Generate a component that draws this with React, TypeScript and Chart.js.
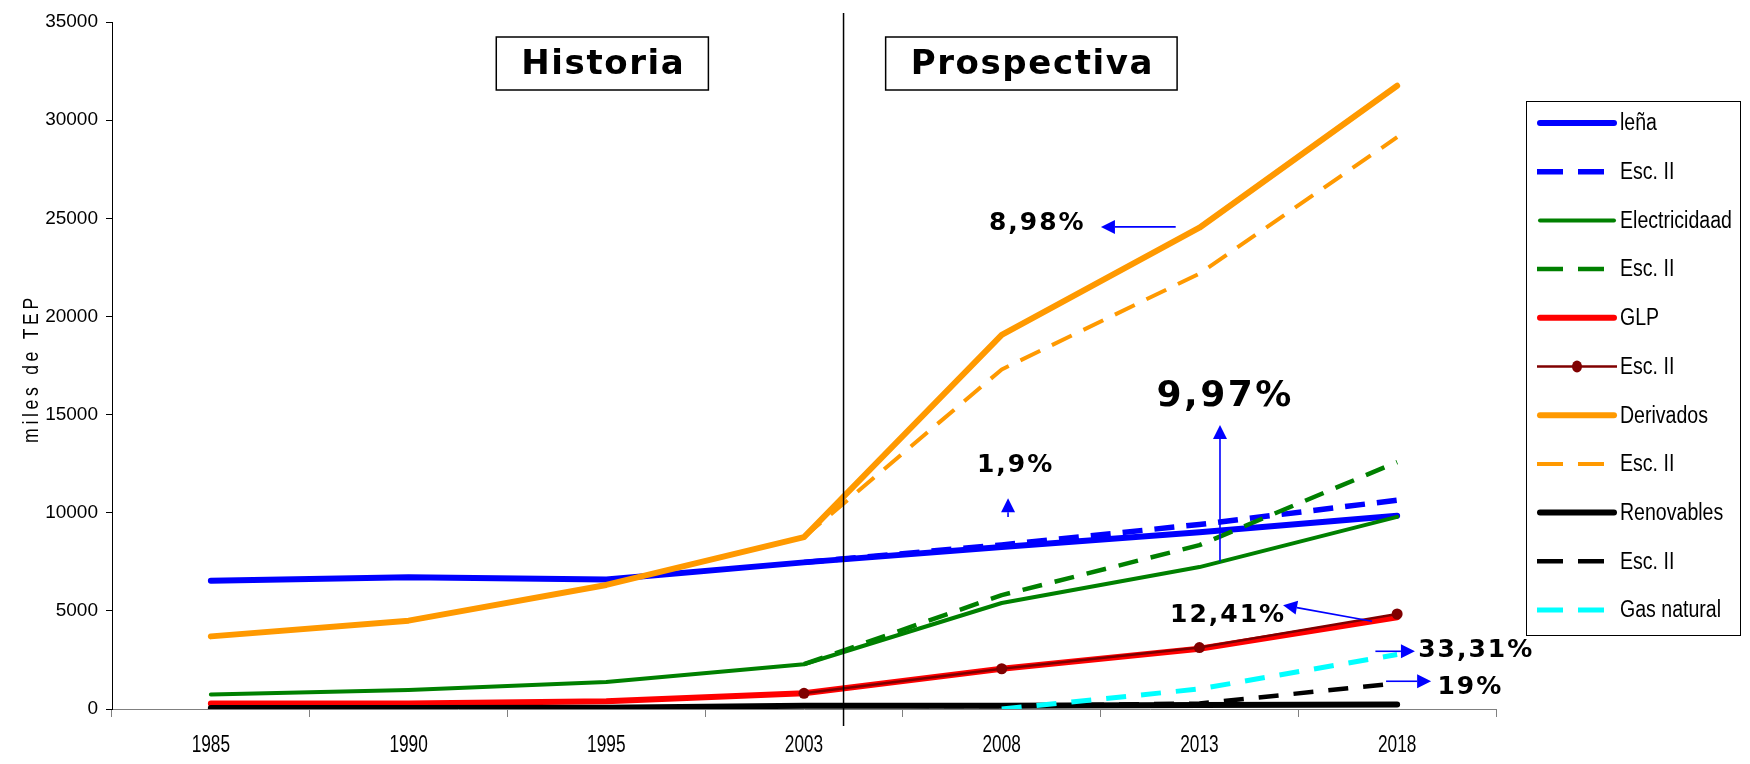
import React, { useEffect, useRef } from 'react';
import { Chart, registerables } from 'chart.js';

Chart.register(...registerables);

// ---------- data ----------
const years = ['1985', '1990', '1995', '2003', '2008', '2013', '2018'];

const lena = [6540, 6710, 6600, 7470, 8250, 9000, 9840];
const lenaEsc2 = [null, null, null, 7470, 8360, 9400, 10640];
const electricidad = [740, 970, 1370, 2280, 5400, 7230, 9790];
const electricidadEsc2 = [null, null, null, 2280, 5800, 8350, 12580];
const glp = [285, 285, 400, 800, 2050, 3070, 4670];
const glpEsc2 = [null, null, null, 800, 2050, 3130, 4840];
const derivados = [3700, 4500, 6320, 8760, 19060, 24520, 31750];
const derivadosEsc2 = [null, null, null, 8760, 17300, 22180, 29130];
const renovables = [50, 50, 60, 170, 170, 200, 230];
const renovablesEsc2 = [null, null, null, 170, 150, 280, 1310];
const gasNatural = [null, null, null, null, 0, 1020, 2780];

const seriesLabels = ['leña', 'Esc. II', 'Electricidaad', 'Esc. II', 'GLP', 'Esc. II', 'Derivados', 'Esc. II', 'Renovables', 'Esc. II', 'Gas natural'];

const yTickValues = [0, 5000, 10000, 15000, 20000, 25000, 30000, 35000];
const yTitle = 'miles de TEP';

const sectionTitles = ['Historia', 'Prospectiva'];
const sectionCenterIdx = [1.98, 4.15];
const boundaryIdx = 3.2; // 2004, between historia and prospectiva

const noteTexts = ['8,98%', '9,97%', '1,9%', '12,41%', '33,31%', '19%'];
const noteIdx = [4.18, 5.13, 4.07, 5.145, 6.4, 6.37];
const noteVal = [24720, 15900, 12380, 4780, 2990, 1110];
const arrowFromIdx = [4.88, 5.104, 4.032, 5.873, 5.89, 5.944];
const arrowFromVal = [24560, 7530, 9780, 4470, 2940, 1413];
const arrowToIdx = [4.502, 5.104, 4.032, 5.423, 6.09, 6.172];
const arrowToVal = [24560, 14470, 10740, 5290, 2940, 1413];

// ---------- styles ----------
const ARIAL = "'Liberation Sans', Arial, sans-serif";
const BOLD = "'DejaVu Sans', Verdana, sans-serif";

type Sty = { color: string; width: number; dash: number[]; marker?: boolean };
const styles: Sty[] = [
  { color: '#0000FF', width: 6, dash: [] },
  { color: '#0000FF', width: 5.5, dash: [20, 12] },
  { color: '#008000', width: 4, dash: [] },
  { color: '#008000', width: 4.5, dash: [20, 13] },
  { color: '#FF0000', width: 6, dash: [] },
  { color: '#800000', width: 2.5, dash: [], marker: true },
  { color: '#FF9900', width: 6, dash: [] },
  { color: '#FF9900', width: 4, dash: [22, 13] },
  { color: '#000000', width: 6, dash: [] },
  { color: '#000000', width: 4.5, dash: [20, 15] },
  { color: '#00FFFF', width: 5, dash: [20, 15] },
];

const seriesData = [lena, lenaEsc2, electricidad, electricidadEsc2, glp, glpEsc2, derivados, derivadosEsc2, renovables, renovablesEsc2, gasNatural];

function narrowText(ctx: CanvasRenderingContext2D, text: string, x: number, y: number, size: number, sx: number, align: CanvasTextAlign) {
  ctx.save();
  ctx.translate(x, y);
  ctx.scale(sx, 1);
  ctx.font = `${size}px ${ARIAL}`;
  ctx.fillStyle = '#000';
  ctx.textAlign = align;
  ctx.textBaseline = 'middle';
  ctx.fillText(text, 0, 0);
  ctx.restore();
}

function drawArrow(ctx: CanvasRenderingContext2D, x1: number, y1: number, x2: number, y2: number) {
  const ang = Math.atan2(y2 - y1, x2 - x1);
  const head = 14;
  const hw = 7;
  const bx = x2 - head * Math.cos(ang);
  const by = y2 - head * Math.sin(ang);
  ctx.strokeStyle = '#0000FF';
  ctx.fillStyle = '#0000FF';
  ctx.lineWidth = 1.6;
  ctx.setLineDash([]);
  ctx.beginPath();
  ctx.moveTo(x1, y1);
  ctx.lineTo(bx, by);
  ctx.stroke();
  ctx.beginPath();
  ctx.moveTo(x2, y2);
  ctx.lineTo(bx + hw * Math.sin(ang), by - hw * Math.cos(ang));
  ctx.lineTo(bx - hw * Math.sin(ang), by + hw * Math.cos(ang));
  ctx.closePath();
  ctx.fill();
}

const overlayPlugin = {
  id: 'overlay',
  afterDraw(chart: any) {
    const ctx: CanvasRenderingContext2D = chart.ctx;
    const xs = chart.scales.x;
    const ys = chart.scales.y;
    const area = chart.chartArea;
    const p0 = xs.getPixelForValue(0);
    const p1 = xs.getPixelForValue(1);
    const px = (i: number) => p0 + i * (p1 - p0);
    const py = (v: number) => ys.getPixelForValue(v);

    ctx.save();
    // x tick labels (condensed)
    years.forEach((yr, i) => {
      narrowText(ctx, yr, xs.getPixelForValue(i), area.bottom + 37, 23, 0.75, 'center');
    });

    // boundary line
    ctx.strokeStyle = '#000';
    ctx.lineWidth = 1.5;
    ctx.beginPath();
    ctx.moveTo(px(boundaryIdx), area.top - 9);
    ctx.lineTo(px(boundaryIdx), area.bottom + 17);
    ctx.stroke();

    // section title boxes
    ctx.font = `bold 34px ${BOLD}`;
    (ctx as any).letterSpacing = '1.6px';
    ctx.textAlign = 'center';
    ctx.textBaseline = 'middle';
    sectionTitles.forEach((t, i) => {
      const cx = px(sectionCenterIdx[i]);
      const w = ctx.measureText(t).width + 48;
      const top = area.top + 15;
      const h = 53;
      ctx.fillStyle = '#fff';
      ctx.fillRect(cx - w / 2, top, w, h);
      ctx.strokeStyle = '#000';
      ctx.lineWidth = 1.5;
      ctx.strokeRect(cx - w / 2, top, w, h);
      ctx.fillStyle = '#000';
      ctx.fillText(t, cx + 1, top + h / 2 + 2);
    });

    // annotations
    noteTexts.forEach((t, i) => {
      drawArrow(ctx, px(arrowFromIdx[i]), py(arrowFromVal[i]), px(arrowToIdx[i]), py(arrowToVal[i]));
      const big = t === '9,97%';
      ctx.font = `bold ${big ? 36 : 25}px ${BOLD}`;
      (ctx as any).letterSpacing = big ? '2.5px' : '2px';
      ctx.fillStyle = '#000';
      ctx.textAlign = 'center';
      ctx.textBaseline = 'middle';
      ctx.fillText(t, px(noteIdx[i]), py(noteVal[i]));
    });
    (ctx as any).letterSpacing = '0px';

    // y title
    ctx.save();
    ctx.translate(32, (area.top + area.bottom) / 2 + 3);
    ctx.rotate(-Math.PI / 2);
    ctx.scale(0.8, 1);
    ctx.font = `22px ${ARIAL}`;
    (ctx as any).letterSpacing = '4.6px';
    ctx.fillStyle = '#000';
    ctx.textAlign = 'center';
    ctx.textBaseline = 'middle';
    ctx.fillText(yTitle, 0, 0);
    ctx.restore();
    (ctx as any).letterSpacing = '0px';

    // legend
    const lx = 1526, ly = 101, lw = 214, lh = 534;
    ctx.fillStyle = '#fff';
    ctx.fillRect(lx, ly, lw, lh);
    ctx.strokeStyle = '#000';
    ctx.lineWidth = 1;
    ctx.setLineDash([]);
    ctx.strokeRect(lx + 0.5, ly + 0.5, lw, lh);
    const rowH = 48.7;
    seriesLabels.forEach((lab, i) => {
      const s = styles[i];
      const y = ly + 22 + i * rowH;
      ctx.strokeStyle = s.color;
      ctx.lineWidth = s.width;
      if (s.dash.length) {
        ctx.setLineDash([26, 15]);
        ctx.lineCap = 'butt';
        ctx.beginPath();
        ctx.moveTo(lx + 11, y);
        ctx.lineTo(lx + 78, y);
        ctx.stroke();
      } else {
        ctx.setLineDash([]);
        ctx.lineCap = s.marker ? 'butt' : 'round';
        ctx.beginPath();
        ctx.moveTo(lx + 11 + (s.marker ? 0 : 3), y);
        ctx.lineTo(lx + 91 - (s.marker ? 0 : 3), y);
        ctx.stroke();
        if (s.marker) {
          ctx.fillStyle = s.color;
          ctx.beginPath();
          ctx.ellipse(lx + 51, y, 5, 6, 0, 0, Math.PI * 2);
          ctx.fill();
        }
      }
      ctx.setLineDash([]);
      narrowText(ctx, lab, lx + 94, y + 1, 23, 0.85, 'left');
    });
    ctx.restore();
  },
};

export default function App() {
  const ref = useRef<HTMLCanvasElement | null>(null);
  useEffect(() => {
    if (!ref.current) return;
    const n = seriesData.length;
    const chart = new Chart(ref.current, {
      type: 'line',
      data: {
        labels: years,
        datasets: seriesData.map((d, i) => {
          const s = styles[i];
          return {
            label: seriesLabels[i],
            data: d as any,
            borderColor: s.color,
            backgroundColor: s.color,
            borderWidth: s.width,
            borderDash: s.dash,
            borderCapStyle: s.dash.length ? 'butt' : 'round',
            borderJoinStyle: 'round',
            tension: 0,
            fill: false,
            pointRadius: s.marker ? 5.5 : 0,
            pointHoverRadius: 0,
            pointBackgroundColor: s.color,
            pointBorderColor: s.color,
            pointBorderWidth: 0,
            order: n - i,
          } as any;
        }),
      },
      options: {
        responsive: false,
        animation: false,
        devicePixelRatio: 1,
        layout: { padding: { top: 22, right: 254, left: 0, bottom: 0 } },
        plugins: { legend: { display: false }, tooltip: { enabled: false }, title: { display: false } },
        scales: {
          x: {
            type: 'category',
            offset: true,
            grid: { offset: true, drawOnChartArea: false, drawTicks: true, tickLength: 8, color: '#808080' },
            border: { color: '#808080', width: 1 },
            ticks: { display: false, autoSkip: false },
            afterFit: (s: any) => { s.height = 55; },
          },
          y: {
            min: 0,
            max: 35000,
            afterBuildTicks: (s: any) => { s.ticks = yTickValues.map((v) => ({ value: v })); },
            grid: { drawOnChartArea: false, drawTicks: true, tickLength: 6, color: '#000' },
            border: { color: '#000', width: 1 },
            ticks: { color: '#000', font: { family: ARIAL, size: 19 }, padding: 8, callback: (v: any) => String(v) },
            afterFit: (s: any) => { s.width = 112; },
          },
        },
      },
      plugins: [overlayPlugin],
    } as any);
    return () => chart.destroy();
  }, []);
  return (
    <div style={{ position: 'fixed', left: 0, top: 0, width: 1750, height: 764, background: '#fff' }}>
      <canvas ref={ref} width={1750} height={764} style={{ display: 'block' }} />
    </div>
  );
}
